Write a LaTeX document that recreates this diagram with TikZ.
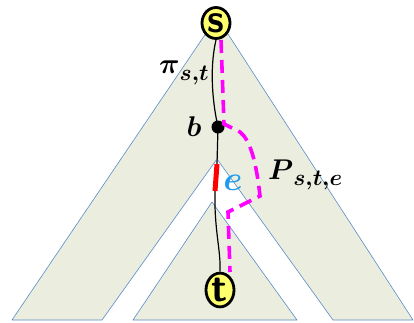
\documentclass[tikz,border=0pt]{standalone}
\usepackage{amsmath,bm}
\usetikzlibrary{shapes.geometric}
\definecolor{treefill}{RGB}{235,238,223}
\definecolor{treeedge}{RGB}{91,139,199}
\definecolor{vyellow}{RGB}{255,255,110}
\definecolor{ecol}{RGB}{30,155,240}
\definecolor{mag}{RGB}{255,0,255}
\newcommand{\vtext}[1]{\scalebox{1.6}{\sffamily\bfseries #1}}
\newcommand{\subtext}[1]{\raisebox{-4pt}{\scalebox{0.8}{$\boldsymbol{#1}$}}}
\newcommand{\biglbl}[1]{\scalebox{1.65}{#1}}
\tikzset{
  tree/.style={fill=treefill, draw=treeedge, line width=0.6pt, line join=round},
  vert/.style={ellipse, draw=black, fill=vyellow, line width=2.8pt, inner sep=0pt,
    minimum width=28pt, minimum height=31pt, font=\fontsize{24.88}{26}\selectfont},
  pathline/.style={draw=black, line width=1.2pt},
  altpath/.style={draw=mag, line width=3.6pt, dash pattern=on 13pt off 7pt},
  lbl/.style={font=\fontsize{17.28}{20}\selectfont, inner sep=0pt}
}
\begin{document}
\begin{tikzpicture}[x=1pt,y=-1pt]
\useasboundingbox (0,0) rectangle (414,322);
% big chevron
\path[tree] (12,320) -- (217,17) -- (413,320) -- (333,320) -- (217,159) -- (102,320) -- cycle;
% small inner tree
\path[tree] (133,320) -- (212,202) -- (297,320) -- cycle;
% vertices
\node[vert] (s) at (216,23) {\vtext{s}};
\node[vert] (t) at (220,290) {\vtext{t}};
\node[circle, fill=black, inner sep=0pt, minimum size=13pt] (b) at (218,127) {};
\coordinate (e1) at (217,164);
\coordinate (e2) at (215,191);
% shortest path
\draw[pathline] (s.south) .. controls (209,70) and (213,105) .. (b.center);
\draw[pathline] (b.center) -- (e1);
\draw[pathline] (e2) .. controls (214,230) and (221,250) .. (t.north);
\draw[red, line width=5pt] (e1) -- (e2);
% replacement path
\coordinate (p0) at (221,40);
\coordinate (p1) at (224,124);
\coordinate (p2) at (240,132);
\coordinate (p4) at (260,196);
\coordinate (p5) at (228,212);
\coordinate (p6) at (230,272);
\draw[altpath] (p0) -- (p1) -- (p2) .. controls (250,140) and (256,160) .. (p4) -- (p5) -- (p6);
% labels
\node[lbl, anchor=west] (pil) at (159,73) {\biglbl{$\boldsymbol{\pi}$\subtext{s{,}t}}};
\node[lbl] (bl) at (194,127) {\biglbl{$\boldsymbol{b}$}};
\node[lbl, text=ecol] (el) at (233,183) {\scalebox{2}{$\boldsymbol{e}$}};
\node[lbl, anchor=west] (pl) at (268,175) {\biglbl{$\boldsymbol{P}$\subtext{s{,}t{,}e}}};
\end{tikzpicture}
\end{document}
